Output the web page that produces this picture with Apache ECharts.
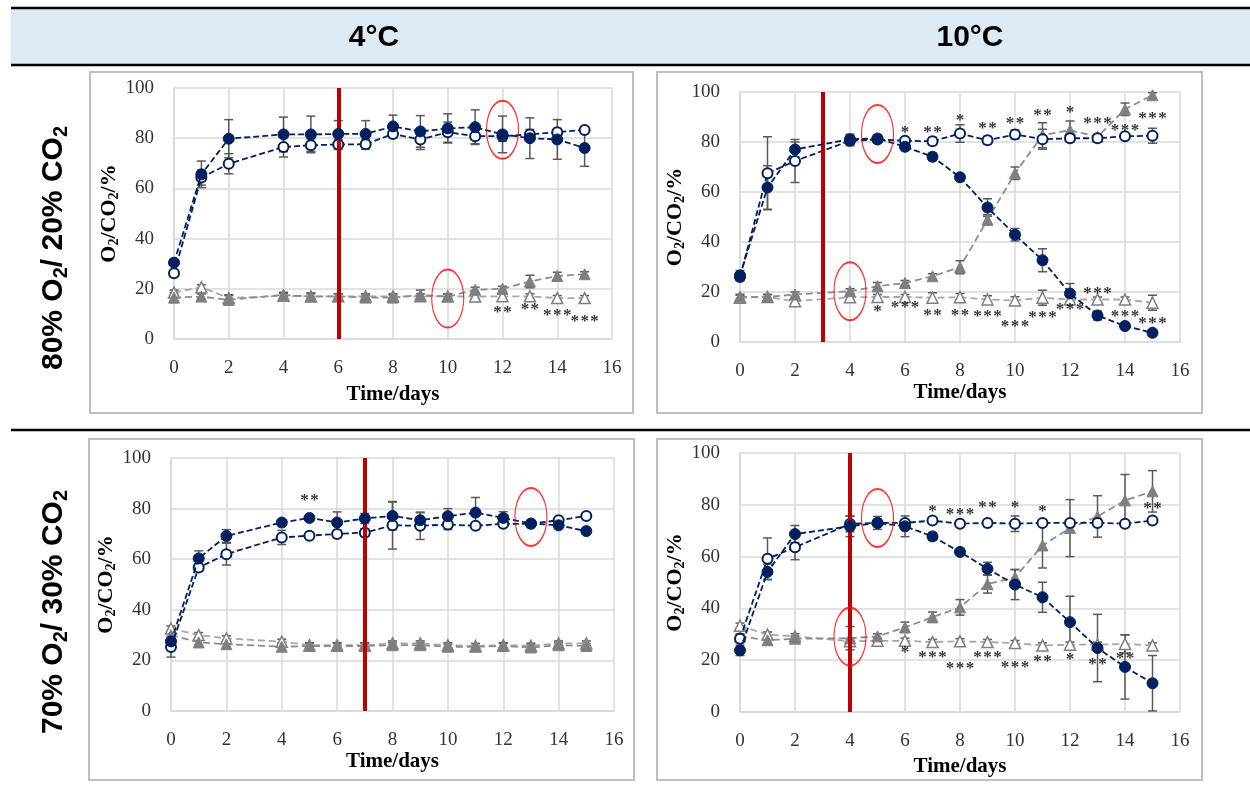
<!DOCTYPE html>
<html><head><meta charset="utf-8">
<script src="https://cdn.jsdelivr.net/npm/echarts@6/dist/echarts.min.js"></script>
<style>html,body{margin:0;padding:0;background:#fff}#c{width:1250px;height:788px}</style>
</head><body><div id="c"></div>
<script>
// ---------- DATA ----------
const days = [0, 1, 2, 4, 5, 6, 7, 8, 9, 10, 11, 12, 13, 14, 15];
const colTitles = ['4°C', '10°C'];
const rowTitles = [['80% O', '/ 20% CO'], ['70% O', '/ 30% CO']];
const xAxisName = 'Time/days';

// Panel A: 80% O2 / 20% CO2, 4°C
const a_circleFilled    = [30.4, 65.6, 79.8, 81.5, 81.5, 81.7, 81.7, 84.7, 82.7, 83.9, 84.4, 81.5, 80.0, 79.5, 76.1];
const a_circleFilledErr = [1, 5.3, 7.6, 6.9, 7.3, 5.3, 5.3, 4.5, 6.3, 5.8, 6.9, 7.3, 8.1, 7.9, 7.3];
const a_circleOpen      = [26.2, 64.3, 69.8, 76.5, 77.2, 77.5, 77.6, 81.7, 79.5, 82.4, 80.8, 80.8, 81.5, 82.4, 83.3];
const a_circleOpenErr   = [1, 3, 4, 4, 2.5, 2, 2, 1, 4, 4, 3, 2, 2, 1.5, 1];
const a_triFilled       = [16.5, 16.9, 15.6, 17.6, 16.9, 17.0, 16.5, 16.5, 17.5, 16.9, 19.6, 20.0, 22.9, 25.1, 25.8];
const a_triFilledErr    = [2, 1, 2, 1, 1.5, 1, 1, 1, 2, 1, 1, 1, 2.5, 1.5, 1];
const a_triOpen         = [18.5, 20.6, 16.3, 17.2, 17.0, 17.0, 17.0, 17.0, 17.0, 17.0, 16.9, 17.0, 17.0, 16.3, 16.3];
const a_triOpenErr      = [1, 1, 1, 1, 1, 1, 1, 1, 1, 1, 1, 1, 1, 1, 1];
const a_stars    = [[12, 12.7, '**'], [13, 13.6, '**'], [14, 11.4, '***'], [15, 9.0, '***']];
const a_ellipses = [[12, 83.4], [10, 16.1]];
const a_redDay   = 6;

// Panel B: 80% O2 / 20% CO2, 10°C
const b_circleFilled    = [26.6, 61.8, 77.0, 81.1, 81.4, 78.1, 74.1, 65.9, 53.8, 42.9, 32.7, 19.4, 10.6, 6.4, 3.7];
const b_circleFilledErr = [2, 8.7, 3, 2, 1.5, 1.5, 1.5, 1, 3.5, 2.5, 4.6, 4, 1.8, 1, 0.8];
const b_circleOpen      = [26.0, 67.5, 72.4, 80.5, 81.0, 80.5, 80.3, 83.4, 80.7, 83.0, 81.1, 81.5, 81.5, 82.3, 82.5];
const b_circleOpenErr   = [1, 14.6, 8.6, 2, 1, 1, 1.5, 3.5, 1.5, 1.8, 4, 1.5, 1, 1, 3];
const b_triFilled       = [18.1, 18.0, 19.0, 20.3, 22.3, 23.6, 26.3, 29.9, 48.9, 67.5, 82.7, 84.7, 82.1, 93.1, 98.7];
const b_triFilledErr    = [1, 1, 1, 1, 1.5, 1, 1, 2.6, 2, 2.5, 5, 3.7, 1, 2.5, 1];
const b_triOpen         = [17.7, 18.0, 16.3, 17.9, 18.0, 18.0, 17.7, 17.9, 17.0, 16.6, 17.7, 17.0, 17.0, 17.0, 15.7];
const b_triOpenErr      = [1, 1, 1, 1, 1, 1, 2, 1.5, 1.5, 1.5, 3, 1, 1, 1, 3];
const b_stars = [
  [6, 85.8, '*'], [7, 85.8, '**'], [8, 90.7, '*'], [9, 87.4, '**'], [10, 89.4, '**'],
  [11, 92.4, '**'], [12, 93.8, '*'], [13, 89.4, '***'], [14, 86.7, '***'], [15, 91.4, '***'],
  [5, 14.1, '*'], [6, 15.7, '***'], [7, 12.7, '**'], [8, 12.7, '**'], [9, 12.1, '***'],
  [10, 8.1, '***'], [11, 11.7, '***'], [12, 15.0, '***'], [13, 21.2, '***'], [14, 12.0, '***'], [15, 9.3, '***']
];
const b_ellipses = [[5, 83.2], [4, 20.3]];
const b_redDay   = 3;

// Panel C: 70% O2 / 30% CO2, 4°C
const c_circleFilled    = [27.5, 60.3, 69.2, 74.5, 76.3, 74.5, 76.1, 77.1, 75.4, 77.0, 78.4, 76.3, 74.1, 73.4, 71.1];
const c_circleFilledErr = [2, 3, 2.5, 1, 1, 4.2, 2, 5.5, 3, 3, 6, 2.5, 1, 1, 1];
const c_circleOpen      = [25.3, 56.7, 62.0, 68.6, 69.3, 70.0, 70.5, 73.4, 73.2, 73.7, 73.2, 74.0, 74.0, 75.4, 77.1];
const c_circleOpenErr   = [4, 1.5, 4.3, 2.8, 1, 1.5, 1.5, 9.4, 5.4, 2, 1, 1, 1, 1, 1];
const c_triFilled       = [30.0, 27.1, 26.4, 25.4, 25.7, 25.7, 25.7, 26.0, 26.0, 25.4, 25.4, 25.7, 25.1, 26.0, 25.7];
const c_triFilledErr    = [1.5, 1, 1, 1.5, 1, 1, 1, 1, 1, 1, 0.5, 1, 1, 1, 1];
const c_triOpen         = [32.6, 30.0, 28.7, 27.4, 26.0, 26.0, 26.0, 26.7, 26.7, 26.0, 25.7, 26.0, 25.8, 26.7, 26.7];
const c_triOpenErr      = [1, 1, 1, 1, 1, 1, 1, 1, 1, 1, 1, 1, 1, 1, 1];
const c_stars    = [[5, 85.3, '**']];
const c_ellipses = [[13, 76.7]];
const c_redDay   = 7;

// Panel D: 70% O2 / 30% CO2, 10°C
const d_circleFilled    = [23.8, 54.1, 68.7, 71.7, 73.0, 71.7, 67.8, 61.8, 55.3, 49.2, 44.3, 34.7, 24.7, 17.4, 11.1];
const d_circleFilledErr = [2, 3, 3.3, 4, 2.5, 4, 1.5, 1, 2.5, 5.8, 5.8, 10, 13, 12.4, 10.7];
const d_circleOpen      = [28.3, 59.2, 63.6, 72.6, 73.0, 73.0, 73.9, 72.7, 73.0, 72.7, 73.0, 73.0, 73.0, 72.7, 73.9];
const d_circleOpenErr   = [1.5, 8, 4.8, 3, 1, 1, 1, 1, 1, 3, 1, 1, 1, 1, 1];
const d_triFilled       = [29.2, 27.7, 28.3, 28.5, 29.2, 32.7, 36.6, 40.4, 49.4, 52.0, 64.3, 71.0, 75.5, 81.7, 85.2];
const d_triFilledErr    = [1, 1, 1, 4.5, 1, 2, 2, 3, 3.5, 3, 8.7, 11, 8, 10, 8];
const d_triOpen         = [33.3, 29.9, 29.2, 27.3, 27.5, 27.5, 27.0, 27.3, 27.0, 26.6, 25.7, 26.0, 26.0, 26.3, 25.7];
const d_triOpenErr      = [1, 1, 1, 1, 1, 1, 1, 1, 1, 1, 1, 1, 1, 3.5, 1];
const d_stars = [
  [7, 79.2, '*'], [8, 78.1, '***'], [9, 80.7, '**'], [10, 80.7, '*'], [11, 79.4, '*'], [15, 80.4, '**'],
  [6, 24.7, '*'], [7, 22.8, '***'], [8, 18.5, '***'], [9, 22.8, '***'], [10, 18.9, '***'],
  [11, 21.5, '**'], [12, 22.1, '*'], [13, 20.2, '**'], [14, 22.5, '**']
];
const d_ellipses = [[5, 74.9], [4, 29.1]];
const d_redDay   = 4;

// ---------- LAYOUT / STYLE ----------
const NAVY = '#002060', GRAY = '#7f7f7f', LGRAY = '#a6a6a6', RED = '#C00000';
const SERIF = '"Liberation Serif", "DejaVu Serif", serif';
const SANS = '"Liberation Sans", Arial, sans-serif';

const panels = [
  { grid: {left: 174, top: 88, width: 438, height: 251}, xGap: 45, box: [90, 72, 543, 341],
    cf: a_circleFilled, cfe: a_circleFilledErr, co: a_circleOpen, coe: a_circleOpenErr,
    tf: a_triFilled, tfe: a_triFilledErr, to: a_triOpen, toe: a_triOpenErr,
    stars: a_stars, ell: a_ellipses, red: a_redDay },
  { grid: {left: 740, top: 92, width: 440, height: 250}, xGap: 40, box: [657, 72, 545, 341],
    cf: b_circleFilled, cfe: b_circleFilledErr, co: b_circleOpen, coe: b_circleOpenErr,
    tf: b_triFilled, tfe: b_triFilledErr, to: b_triOpen, toe: b_triOpenErr,
    stars: b_stars, ell: b_ellipses, red: b_redDay },
  { grid: {left: 171, top: 458, width: 443, height: 253}, xGap: 38, box: [89, 439, 545, 341],
    cf: c_circleFilled, cfe: c_circleFilledErr, co: c_circleOpen, coe: c_circleOpenErr,
    tf: c_triFilled, tfe: c_triFilledErr, to: c_triOpen, toe: c_triOpenErr,
    stars: c_stars, ell: c_ellipses, red: c_redDay },
  { grid: {left: 740, top: 453, width: 440, height: 259}, xGap: 44, box: [657, 439, 545, 341],
    cf: d_circleFilled, cfe: d_circleFilledErr, co: d_circleOpen, coe: d_circleOpenErr,
    tf: d_triFilled, tfe: d_triFilledErr, to: d_triOpen, toe: d_triOpenErr,
    stars: d_stars, ell: d_ellipses, red: d_redDay }
];

const ELLIPSE_PATH = 'path://M50,0 C77.6,0 100,22.4 100,50 C100,77.6 77.6,100 50,100 C22.4,100 0,77.6 0,50 C0,22.4 22.4,0 50,0 Z';

function pairs(vals) { return days.map((d, i) => [d, vals[i]]); }
function errTriples(vals, e) { return days.map((d, i) => [d, vals[i], e[i]]); }

const grids = [], xAxes = [], yAxes = [], series = [], graphics = [];

panels.forEach((p, i) => {
  grids.push(Object.assign({containLabel: false}, p.grid));
  xAxes.push({
    type: 'value', gridIndex: i, min: 0, max: 16, interval: 2,
    axisLine: {show: true, lineStyle: {color: '#d9d9d9', width: 1.5}},
    axisTick: {show: false},
    splitLine: {show: true, lineStyle: {color: '#d9d9d9', width: 1.5}},
    axisLabel: {margin: 20, fontFamily: SERIF, fontSize: 19, color: '#333'},
    name: xAxisName, nameLocation: 'middle', nameGap: p.xGap,
    nameTextStyle: {fontFamily: SERIF, fontWeight: 'bold', fontSize: 21, color: '#000'}
  });
  yAxes.push({
    type: 'value', gridIndex: i, min: 0, max: 100, interval: 20,
    axisLine: {show: true, lineStyle: {color: '#d9d9d9', width: 1.5}},
    axisTick: {show: false},
    splitLine: {show: true, lineStyle: {color: '#d9d9d9', width: 1.5}},
    axisLabel: {margin: 20, fontFamily: SERIF, fontSize: 19, color: '#333'},
    name: '{a|O}{s|2}{a|/CO}{s|2}{a|/%}', nameLocation: 'middle', nameGap: 52, nameRotate: 90,
    nameTextStyle: {
      rich: {
        a: {fontFamily: SERIF, fontWeight: 'bold', fontSize: 22, color: '#000', lineHeight: 24},
        s: {fontFamily: SERIF, fontWeight: 'bold', fontSize: 14, color: '#000', lineHeight: 13, verticalAlign: 'bottom'}
      }
    }
  });

  // error bars
  const errData = [].concat(
    errTriples(p.to, p.toe), errTriples(p.tf, p.tfe),
    errTriples(p.co, p.coe), errTriples(p.cf, p.cfe));
  series.push({
    type: 'custom', xAxisIndex: i, yAxisIndex: i, z: 1, silent: true,
    encode: {x: 0, y: 1},
    data: errData,
    renderItem: function (params, api) {
      const x = api.value(0), y = api.value(1), e = api.value(2);
      const t = api.coord([x, y + e]), b = api.coord([x, y - e]);
      const c = 4.5;
      const st = {stroke: '#595959', lineWidth: 1.5};
      return {type: 'group', children: [
        {type: 'line', shape: {x1: t[0], y1: t[1], x2: b[0], y2: b[1]}, style: st},
        {type: 'line', shape: {x1: t[0] - c, y1: t[1], x2: t[0] + c, y2: t[1]}, style: st},
        {type: 'line', shape: {x1: b[0] - c, y1: b[1], x2: b[0] + c, y2: b[1]}, style: st}
      ]};
    }
  });

  const common = {type: 'line', xAxisIndex: i, yAxisIndex: i, silent: true, emphasis: {disabled: true}};
  series.push(Object.assign({}, common, {
    z: 2, data: pairs(p.to), symbol: 'triangle', symbolSize: 11,
    itemStyle: {color: '#fff', borderColor: GRAY, borderWidth: 1.5},
    lineStyle: {color: LGRAY, width: 1.8, type: [7, 4]}
  }));
  series.push(Object.assign({}, common, {
    z: 3, data: pairs(p.tf), symbol: 'triangle', symbolSize: 11,
    itemStyle: {color: GRAY, borderColor: GRAY, borderWidth: 1},
    lineStyle: {color: '#8c8c8c', width: 1.8, type: [7, 4]}
  }));
  series.push(Object.assign({}, common, {
    z: 4, data: pairs(p.co), symbol: 'circle', symbolSize: 10,
    itemStyle: {color: '#fff', borderColor: NAVY, borderWidth: 2},
    lineStyle: {color: NAVY, width: 1.8, type: [6, 3]}
  }));
  series.push(Object.assign({}, common, {
    z: 5, data: pairs(p.cf), symbol: 'circle', symbolSize: 11,
    itemStyle: {color: NAVY, borderColor: NAVY, borderWidth: 1},
    lineStyle: {color: NAVY, width: 1.8, type: [6, 3]}
  }));

  // ellipses + red day line
  series.push({
    type: 'scatter', xAxisIndex: i, yAxisIndex: i, z: 6, silent: true,
    data: p.ell, symbol: ELLIPSE_PATH, symbolSize: [32, 58],
    itemStyle: {color: 'rgba(0,0,0,0)', borderColor: '#FF0000', borderWidth: 1.5},
    markLine: {
      silent: true, symbol: ['none', 'none'], label: {show: false},
      lineStyle: {color: RED, width: 4, type: 'solid'},
      data: [{xAxis: p.red}]
    }
  });

  // significance stars
  series.push({
    type: 'scatter', xAxisIndex: i, yAxisIndex: i, z: 7, silent: true,
    data: p.stars.map(s => ({name: s[2], value: [s[0], s[1]]})),
    symbolSize: 1, itemStyle: {color: 'rgba(0,0,0,0)'},
    label: {show: true, position: 'inside', offset: [0, 5],
            formatter: function (q) { return q.name.split('').join('\u200A'); },
            fontFamily: SERIF, fontWeight: 'bold', fontSize: 17, color: '#000'}
  });

  graphics.push({type: 'rect', shape: {x: p.box[0], y: p.box[1], width: p.box[2], height: p.box[3]},
    style: {fill: 'none', stroke: '#bfbfbf', lineWidth: 2}, silent: true});
});

// header band and separators
graphics.push({type: 'rect', shape: {x: 11, y: 8, width: 1239, height: 57}, style: {fill: '#DDEAF3'}, silent: true});
graphics.push({type: 'line', shape: {x1: 11, y1: 8, x2: 1250, y2: 8}, style: {stroke: '#000', lineWidth: 2.5}, silent: true});
graphics.push({type: 'line', shape: {x1: 11, y1: 65, x2: 1250, y2: 65}, style: {stroke: '#000', lineWidth: 2.5}, silent: true});
graphics.push({type: 'line', shape: {x1: 11, y1: 430, x2: 1250, y2: 430}, style: {stroke: '#000', lineWidth: 2.5}, silent: true});
[[374, colTitles[0]], [970, colTitles[1]]].forEach(([x, t]) => {
  graphics.push({type: 'text', x: x, y: 38, silent: true,
    style: {text: t, fontFamily: SANS, fontWeight: 'bold', fontSize: 30, fill: '#000', align: 'center', verticalAlign: 'middle'}});
});
[[54, 248, rowTitles[0]], [54, 612, rowTitles[1]]].forEach(([x, y, r]) => {
  graphics.push({type: 'text', x: x, y: y, rotation: Math.PI / 2, silent: true,
    style: {
      text: '{m|' + r[0] + '}{s|2}{m|' + r[1] + '}{s|2}',
      align: 'center', verticalAlign: 'middle',
      rich: {
        m: {fontFamily: SANS, fontWeight: 'bold', fontSize: 30, fill: '#000', lineHeight: 34},
        s: {fontFamily: SANS, fontWeight: 'bold', fontSize: 20, fill: '#000', lineHeight: 18, verticalAlign: 'bottom'}
      }
    }});
});

const chart = echarts.init(document.getElementById('c'), null, {renderer: 'canvas'});
chart.setOption({
  animation: false,
  backgroundColor: '#fff',
  grid: grids, xAxis: xAxes, yAxis: yAxes, series: series,
  graphic: {elements: graphics}
});
</script></body></html>
